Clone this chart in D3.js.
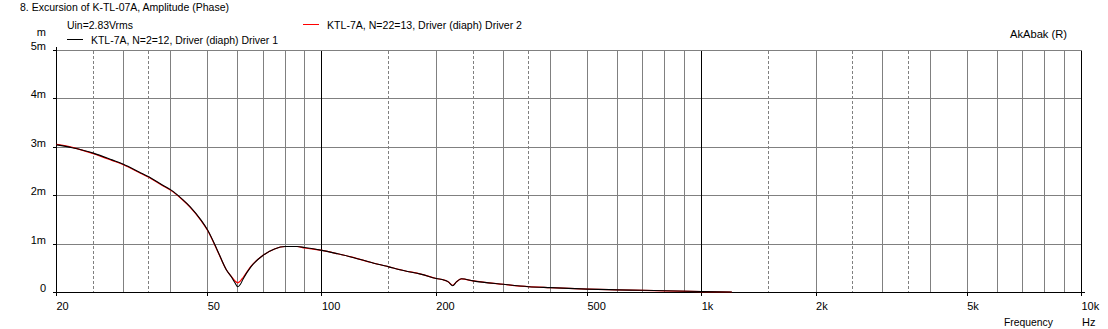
<!DOCTYPE html>
<html>
<head>
<meta charset="utf-8">
<script src="https://cdn.jsdelivr.net/npm/d3@7/dist/d3.min.js"></script>
<style>
  html, body { margin: 0; padding: 0; background: #fff; }
  svg { display: block; }
  text { font-family: "Liberation Sans", Arial, sans-serif; font-size: 11px; fill: #000; }
</style>
</head>
<body>
<svg id="chart" width="1108" height="329"></svg>
<script>
// ---- data ----
const titleText = "8. Excursion of K-TL-07A, Amplitude (Phase)";
const inputText = "Uin=2.83Vrms";
const seriesNames = ["KTL-7A, N=2=12, Driver (diaph) Driver 1", "KTL-7A, N=22=13, Driver (diaph) Driver 2"];
const seriesColors = ["#000000", "#ff0000"];
const brandText = "AkAbak (R)";

const freqs = [20, 22, 25, 28, 30, 33, 35, 38, 40, 43, 45, 48, 50, 53, 56, 58, 59, 60, 61, 62, 65, 70, 75, 80, 86, 90, 100, 110, 120, 135, 150, 165, 182, 200, 210, 215, 221, 226, 233, 250, 300, 350, 400, 500, 600, 700, 800, 1000, 1200];
// excursion in mm (axis unit "m" = milli)
const driver1 = [3.05, 2.99, 2.88, 2.74, 2.65, 2.49, 2.39, 2.22, 2.12, 1.92, 1.77, 1.50, 1.29, 0.88, 0.47, 0.30, 0.20, 0.12, 0.17, 0.28, 0.53, 0.77, 0.90, 0.95, 0.95, 0.93, 0.87, 0.80, 0.73, 0.62, 0.53, 0.45, 0.38, 0.29, 0.255, 0.22, 0.14, 0.22, 0.285, 0.24, 0.17, 0.12, 0.10, 0.07, 0.055, 0.045, 0.035, 0.02, 0.01];
const driver2 = [3.06, 3.00, 2.87, 2.73, 2.64, 2.48, 2.38, 2.21, 2.11, 1.91, 1.76, 1.49, 1.28, 0.87, 0.47, 0.31, 0.24, 0.20, 0.24, 0.31, 0.54, 0.77, 0.90, 0.95, 0.95, 0.92, 0.87, 0.80, 0.73, 0.62, 0.53, 0.45, 0.38, 0.29, 0.255, 0.22, 0.15, 0.22, 0.28, 0.24, 0.17, 0.12, 0.10, 0.07, 0.055, 0.045, 0.035, 0.02, 0.01];

const yTicks = [0, 1, 2, 3, 4, 5];
const yTickLabels = ["0", "1m", "2m", "3m", "4m", "5m"];
const xLabelVals = [20, 50, 100, 200, 500, 1000, 2000, 5000, 10000];
const xLabelText = ["20", "50", "100", "200", "500", "1k", "2k", "5k", "10k"];
const xSolidGrid = [30, 40, 50, 60, 70, 80, 90, 200, 300, 400, 500, 600, 700, 800, 900, 2000, 3000, 4000, 5000, 6000, 7000, 8000, 9000];
const xDashedGrid = [25, 35, 150, 250, 350, 1500, 2500, 3500];
const xBlackGrid = [100, 1000, 10000];

// ---- layout ----
const svg = d3.select("#chart");
const x = d3.scaleLog().domain([20, 10000]).range([56.5, 1081.5]);
const y = d3.scaleLinear().domain([0, 5]).range([292.5, 50.5]);
const snap = v => Math.round(v - 0.5) + 0.5;

const grid = svg.append("g").attr("shape-rendering", "crispEdges");

grid.selectAll("line.hg").data(yTicks.filter(d => d > 0)).join("line")
  .attr("x1", 53).attr("x2", x(10000))
  .attr("y1", d => snap(y(d))).attr("y2", d => snap(y(d)))
  .attr("stroke", "#808080").attr("stroke-width", 1);

grid.selectAll("line.vs").data(xSolidGrid).join("line")
  .attr("x1", d => snap(x(d))).attr("x2", d => snap(x(d)))
  .attr("y1", y(5)).attr("y2", y(0))
  .attr("stroke", "#808080").attr("stroke-width", 1);

grid.selectAll("line.vd").data(xDashedGrid).join("line")
  .attr("x1", d => snap(x(d))).attr("x2", d => snap(x(d)))
  .attr("y1", y(5)).attr("y2", y(0))
  .attr("stroke", "#808080").attr("stroke-width", 1)
  .attr("stroke-dasharray", "3,2");

grid.selectAll("line.vb").data(xBlackGrid).join("line")
  .attr("x1", d => snap(x(d))).attr("x2", d => snap(x(d)))
  .attr("y1", y(5)).attr("y2", y(0))
  .attr("stroke", "#000").attr("stroke-width", 1);

grid.append("line").attr("x1", snap(x(20))).attr("x2", snap(x(20)))
  .attr("y1", 46.5).attr("y2", y(0)).attr("stroke", "#000");
grid.append("line").attr("x1", 53).attr("x2", 1085)
  .attr("y1", y(0)).attr("y2", y(0)).attr("stroke", "#000");
grid.selectAll("line.yt").data(yTicks).join("line")
  .attr("x1", 53).attr("x2", snap(x(20)))
  .attr("y1", d => snap(y(d))).attr("y2", d => snap(y(d)))
  .attr("stroke", "#000");
grid.selectAll("line.xt").data(xLabelVals).join("line")
  .attr("x1", d => snap(x(d))).attr("x2", d => snap(x(d)))
  .attr("y1", y(0)).attr("y2", y(0) + 3)
  .attr("stroke", "#000");

svg.selectAll("text.yl").data(yTicks).join("text")
  .attr("x", 46).attr("y", d => y(d) - 0.5)
  .attr("text-anchor", "end")
  .text((d, i) => yTickLabels[i]);
svg.append("text").attr("x", 46).attr("y", 36).attr("text-anchor", "end").text("m");

svg.selectAll("text.xl").data(xLabelVals).join("text")
  .attr("x", d => x(d)).attr("y", 310)
  .text((d, i) => xLabelText[i]);

function fitText(sel, w) {
  return sel.attr("textLength", w).attr("lengthAdjust", "spacingAndGlyphs");
}
fitText(svg.append("text").attr("x", 1004).attr("y", 326).text("Frequency"), 49);
svg.append("text").attr("x", 1082).attr("y", 326).text("Hz");

const line = d3.line().x((d, i) => x(freqs[i])).y(d => y(d)).curve(d3.curveMonotoneX);
svg.append("path").datum(driver2).attr("d", line)
  .attr("fill", "none").attr("stroke", seriesColors[1]).attr("stroke-width", 1.2);
svg.append("path").datum(driver1).attr("d", line)
  .attr("fill", "none").attr("stroke", seriesColors[0]).attr("stroke-width", 1.1);

fitText(svg.append("text").attr("x", 20).attr("y", 11).text(titleText), 209);
fitText(svg.append("text").attr("x", 67).attr("y", 29).text(inputText), 66);
svg.append("line").attr("x1", 67).attr("x2", 83).attr("y1", 39.5).attr("y2", 39.5)
  .attr("stroke", seriesColors[0]).attr("shape-rendering", "crispEdges");
fitText(svg.append("text").attr("x", 91).attr("y", 43.5).text(seriesNames[0]), 187);
svg.append("line").attr("x1", 303).attr("x2", 319).attr("y1", 24.5).attr("y2", 24.5)
  .attr("stroke", seriesColors[1]).attr("shape-rendering", "crispEdges");
fitText(svg.append("text").attr("x", 327).attr("y", 28.5).text(seriesNames[1]), 195);
fitText(svg.append("text").attr("x", 1010).attr("y", 38).text(brandText), 57);
</script>
</body>
</html>
